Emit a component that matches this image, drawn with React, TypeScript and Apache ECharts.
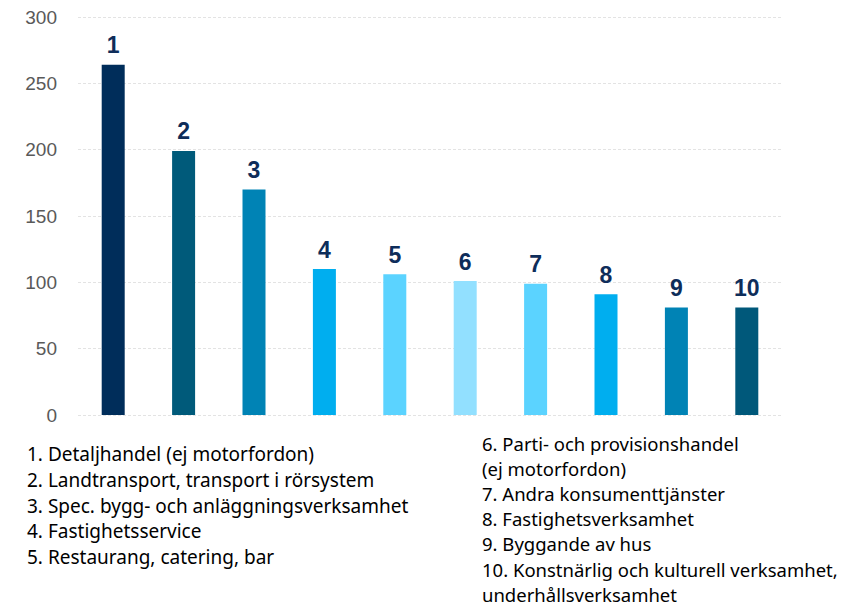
import React, { useEffect, useRef } from "react";
import * as echarts from "echarts";

const ranks = ["1", "2", "3", "4", "5", "6", "7", "8", "9", "10"];
const values = [264, 199, 170, 110, 106, 101, 99, 91, 81, 81];
const barColors = [
  "#002D5A",
  "#005A7A",
  "#0083B5",
  "#00AEEF",
  "#5BD3FF",
  "#92E0FF",
  "#5BD3FF",
  "#00AEEF",
  "#0083B5",
  "#00587A",
];
const leftLegend = [
  "1. Detaljhandel (ej motorfordon)",
  "2. Landtransport, transport i rörsystem",
  "3. Spec. bygg- och anläggningsverksamhet",
  "4. Fastighetsservice",
  "5. Restaurang, catering, bar",
];
const rightLegend = [
  "6. Parti- och provisionshandel\n(ej motorfordon)",
  "7. Andra konsumenttjänster",
  "8. Fastighetsverksamhet",
  "9. Byggande av hus",
  "10. Konstnärlig och kulturell verksamhet,\nunderhållsverksamhet",
];
const yTicks = { min: 0, max: 300, interval: 50 };

export default function App() {
  const ref = useRef<HTMLDivElement>(null);
  useEffect(() => {
    if (!ref.current) return;
    document.body.style.margin = "0";
    const chart = echarts.init(ref.current, undefined, { renderer: "svg" });
    const legendFont = "'Noto Sans', sans-serif";
    const makeLines = (
      items: string[],
      x: number,
      y0: number,
      step: number,
      fontSize: number
    ) => {
      const lines = items.flatMap((s) => s.split("\n"));
      return lines.map((t, i) => ({
        type: "text",
        x,
        y: y0 + i * step,
        style: {
          text: t,
          fontSize,
          fontFamily: legendFont,
          fill: "#000000",
          verticalAlign: "middle",
          align: "left",
        },
      }));
    };
    chart.setOption({
      animation: false,
      backgroundColor: "#ffffff",
      grid: { left: 78, right: 69, top: 17, bottom: 192, containLabel: false },
      xAxis: {
        type: "category",
        data: ranks,
        axisLine: { show: false },
        axisTick: { show: false },
        axisLabel: { show: false },
      },
      yAxis: {
        type: "value",
        min: yTicks.min,
        max: yTicks.max,
        interval: yTicks.interval,
        axisLine: { show: false },
        axisTick: { show: false },
        axisLabel: {
          color: "#595959",
          fontSize: 19,
          fontFamily: "'Liberation Sans', Arial, sans-serif",
          margin: 21,
        },
        splitLine: { lineStyle: { color: "#E3E3E3", type: [3, 2], width: 1 } },
      },
      series: [
        {
          type: "bar",
          barWidth: 23,
          data: values.map((v, i) => ({ value: v, itemStyle: { color: barColors[i] } })),
          label: {
            show: true,
            position: "top",
            distance: 8,
            formatter: "{b}",
            color: "#0E2D5A",
            fontSize: 23,
            fontWeight: "bold",
            fontFamily: "'Liberation Sans', Arial, sans-serif",
          },
        },
      ],
      graphic: [
        ...makeLines(leftLegend, 27, 454, 25.8, 19),
        ...makeLines(rightLegend, 482, 443, 25.2, 18.5),
      ],
    });
    return () => chart.dispose();
  }, []);
  return <div ref={ref} style={{ width: 851, height: 607 }} />;
}
